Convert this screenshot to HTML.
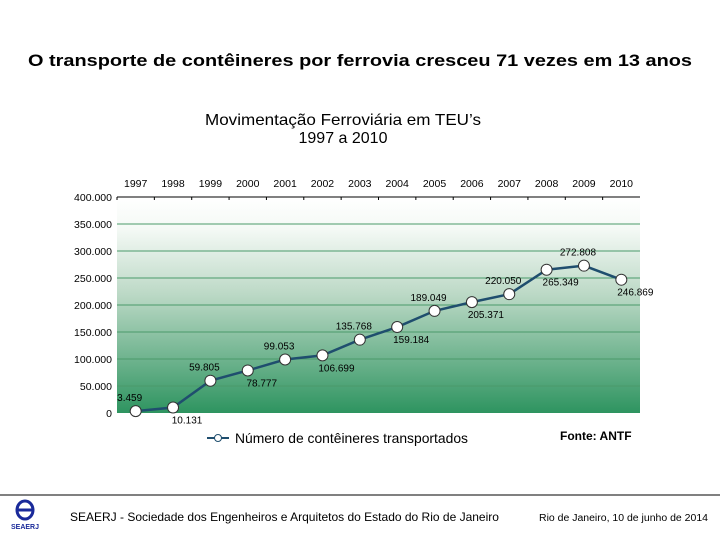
<!DOCTYPE html>
<html><head><meta charset="utf-8"><style>
body{margin:0;width:720px;height:540px;background:#fff;overflow:hidden;font-family:"Liberation Sans",sans-serif;}
</style></head><body>
<svg width="720" height="540" xmlns="http://www.w3.org/2000/svg" font-family="Liberation Sans, sans-serif">
<defs>
<linearGradient id="bg" x1="0" y1="0" x2="0" y2="1">
<stop offset="0" stop-color="#ffffff"/><stop offset="0.15" stop-color="#f4f9f5"/><stop offset="0.45" stop-color="#bcd9c6"/><stop offset="1" stop-color="#2e9460"/>
</linearGradient>
</defs>
<text x="360" y="66" text-anchor="middle" font-size="17" font-weight="bold" fill="#000" textLength="664" lengthAdjust="spacingAndGlyphs">O transporte de contêineres por ferrovia cresceu 71 vezes em 13 anos</text>
<text x="343" y="125" text-anchor="middle" font-size="16" fill="#000" textLength="276" lengthAdjust="spacingAndGlyphs">Movimentação Ferroviária em TEU’s</text>
<text x="343" y="143" text-anchor="middle" font-size="16" fill="#000">1997 a 2010</text>
<rect x="117" y="197" width="523" height="216" fill="url(#bg)"/>
<g id="grid"></g><g id="axes"></g><g id="series"></g>
<line x1="207" y1="438" x2="229" y2="438" stroke="#1f4e6e" stroke-width="2"/>
<circle cx="218" cy="438" r="3.5" fill="#fff" stroke="#1f4e6e"/>
<text x="235" y="443" font-size="14" fill="#000" textLength="233" lengthAdjust="spacingAndGlyphs">Número de contêineres transportados</text>
<text x="560" y="440" font-size="12" font-weight="bold" fill="#000">Fonte: ANTF</text>
<line x1="0" y1="495" x2="720" y2="495" stroke="#000" stroke-width="1"/>
<g>
<ellipse cx="25" cy="510" rx="8" ry="9" fill="none" stroke="#1a2a9a" stroke-width="3"/>
<line x1="17" y1="510" x2="33" y2="510" stroke="#1a2a9a" stroke-width="3"/>
<text x="25" y="529" text-anchor="middle" font-size="7" font-weight="bold" fill="#1a2a9a">SEAERJ</text>
</g>
<text x="70" y="521" font-size="12" fill="#000">SEAERJ - Sociedade dos Engenheiros e Arquitetos do Estado do Rio de Janeiro</text>
<text x="539" y="521" font-size="10" fill="#000" textLength="169" lengthAdjust="spacingAndGlyphs">Rio de Janeiro, 10 de junho de 2014</text>
</svg>
<script>
const years=["1997","1998","1999","2000","2001","2002","2003","2004","2005","2006","2007","2008","2009","2010"];
const values=[3459,10131,59805,78777,99053,106699,135768,159184,189049,205371,220050,265349,272808,246869];
const valueLabels=["3.459","10.131","59.805","78.777","99.053","106.699","135.768","159.184","189.049","205.371","220.050","265.349","272.808","246.869"];
const yTicks=[0,50000,100000,150000,200000,250000,300000,350000,400000];
const yTickLabels=["0","50.000","100.000","150.000","200.000","250.000","300.000","350.000","400.000"];
const labelAbove=[true,false,true,false,true,false,true,false,true,false,true,false,true,false];
const NS="http://www.w3.org/2000/svg";
const x0=117,x1=640,yTop=197,yBot=413;
const step=(x1-x0)/years.length;
const xs=i=>x0+step*(i+0.5);
const ys=v=>yBot-(v/400000)*(yBot-yTop);
function mk(t,a,p){const e=document.createElementNS(NS,t);for(const k in a)e.setAttribute(k,a[k]);p.appendChild(e);return e;}
const grid=document.getElementById('grid'),axes=document.getElementById('axes'),series=document.getElementById('series');
yTicks.forEach((v,i)=>{
 if(v>0&&v<400000){const l=mk('line',{x1:x0,x2:x1,y1:ys(v),y2:ys(v),stroke:'#4a9a6a','stroke-width':1},grid);
 
 }
 const t=mk('text',{x:112,y:ys(v)+4,'text-anchor':'end','font-size':10.5,fill:'#000'},axes);t.textContent=yTickLabels[i];
 
 
});
const ax=mk('line',{x1:x0,x2:x1,y1:yTop,y2:yTop,stroke:'#000','stroke-width':1},axes);


years.forEach((y,i)=>{
 const t=mk('text',{x:xs(i),y:187,'text-anchor':'middle','font-size':10.5,fill:'#000'},axes);t.textContent=y;
 
 
 const tk=mk('line',{x1:x0+step*i,x2:x0+step*i,y1:yTop,y2:yTop+3,stroke:'#000'},axes);
 
 
});
const pts=values.map((v,i)=>xs(i)+','+ys(v)).join(' ');
const pl=mk('polyline',{points:pts,fill:'none',stroke:'#1f4e6e','stroke-width':2.5},series);


values.forEach((v,i)=>{
 const c=mk('circle',{cx:xs(i),cy:ys(v),r:5.5,fill:'#fff',stroke:'#333','stroke-width':1},series);
 
 
 const t=mk('text',{x:xs(i)+(labelAbove[i]?-6:14),y:ys(v)+(labelAbove[i]?-10:16),'text-anchor':'middle','font-size':10,fill:'#000'},series);
 t.textContent=valueLabels[i];
 
 
});
</script>
</body></html>
